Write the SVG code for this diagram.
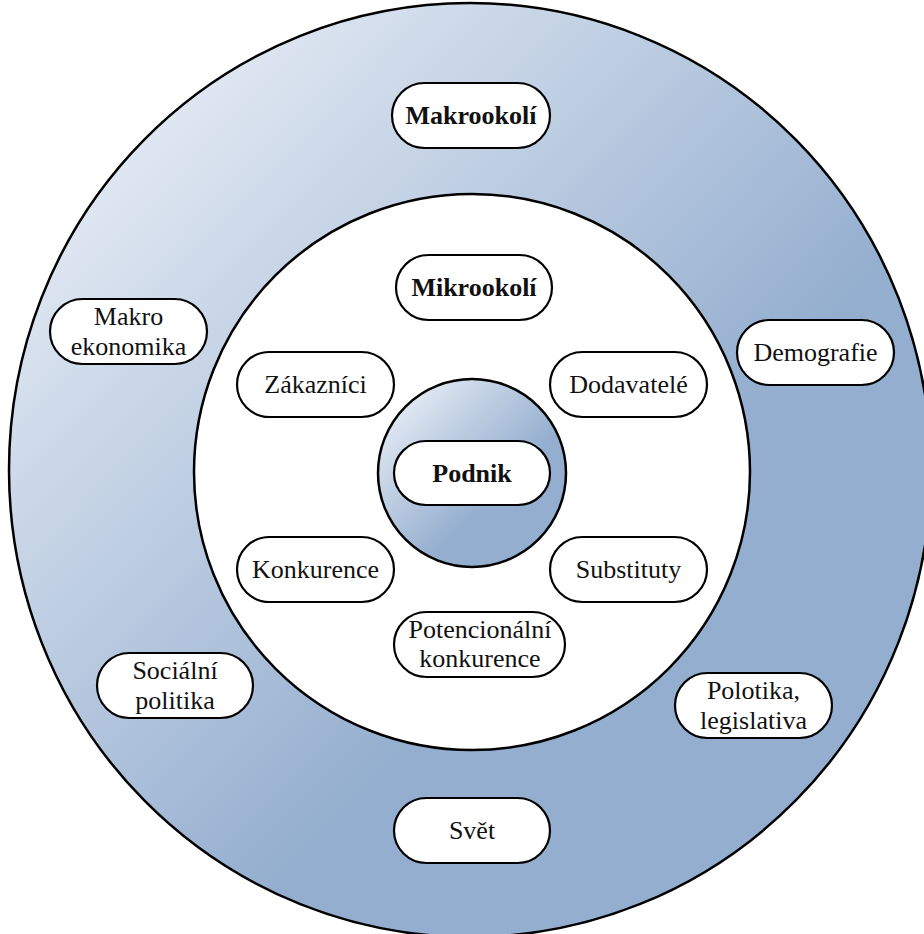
<svg xmlns="http://www.w3.org/2000/svg" width="924" height="934" viewBox="0 0 924 934">
<defs>
<linearGradient id="g" x1="0" y1="0" x2="1" y2="1">
<stop offset="0" stop-color="#f6f8fc"/>
<stop offset="0.62" stop-color="#94aecf"/>
<stop offset="1" stop-color="#94aecf"/>
</linearGradient>
<style>
.ring{stroke:#000;stroke-width:2.5;}
.pill{fill:#fff;stroke:#000;stroke-width:2.2;}
.b{font-weight:bold;}
</style>
</defs>
<rect width="924" height="934" fill="#fff"/>
<g id="outer"><ellipse class="ring" cx="470" cy="470" rx="461" ry="467" fill="url(#g)"/></g>
<g id="inner"><circle class="ring" cx="472" cy="472" r="278" fill="#fff"/></g>
<g id="core"><circle class="ring" cx="472" cy="473" r="94" fill="url(#g)"/></g>
<g id="connectors"></g>
<g font-family="Liberation Serif, Times New Roman, serif" font-size="26" fill="#111" text-anchor="middle">
<g id="makrookoli"><rect class="pill" x="392" y="83" width="158" height="65" rx="32.5"/><text class="b" x="471" y="124">Makrookolí</text></g>
<g id="mikrookoli"><rect class="pill" x="396" y="255" width="156" height="65" rx="32.5"/><text class="b" x="474" y="296">Mikrookolí</text></g>
<g id="zakaznici"><rect class="pill" x="237" y="352" width="157" height="65" rx="32.5"/><text x="315.5" y="393">Zákazníci</text></g>
<g id="dodavatele"><rect class="pill" x="550" y="352" width="157" height="65" rx="32.5"/><text x="628.5" y="393">Dodavatelé</text></g>
<g id="podnik"><rect class="pill" x="394" y="441" width="156" height="64" rx="32"/><text class="b" x="472" y="482">Podnik</text></g>
<g id="konkurence"><rect class="pill" x="237" y="537" width="157" height="65" rx="32.5"/><text x="315.5" y="578">Konkurence</text></g>
<g id="substituty"><rect class="pill" x="550" y="537" width="157" height="65" rx="32.5"/><text x="628.5" y="578">Substituty</text></g>
<g id="potencionalni"><rect class="pill" x="394" y="612" width="171" height="65" rx="32.5"/><text x="480" y="638">Potencionální</text><text x="480" y="667">konkurence</text></g>
<g id="makroekonomika"><rect class="pill" x="50" y="299" width="157" height="65" rx="32.5"/><text x="128.5" y="325">Makro</text><text x="128.5" y="355">ekonomika</text></g>
<g id="demografie"><rect class="pill" x="737" y="320" width="157" height="65" rx="32.5"/><text x="815.5" y="361">Demografie</text></g>
<g id="socialni"><rect class="pill" x="97" y="653" width="156" height="65" rx="32.5"/><text x="175" y="679">Sociální</text><text x="175" y="709">politika</text></g>
<g id="polotika"><rect class="pill" x="675" y="673" width="157" height="65" rx="32.5"/><text x="753.5" y="699">Polotika,</text><text x="753.5" y="729">legislativa</text></g>
<g id="svet"><rect class="pill" x="394" y="798" width="156" height="65" rx="32.5"/><text x="472" y="839">Svět</text></g>
</g>
</svg>
